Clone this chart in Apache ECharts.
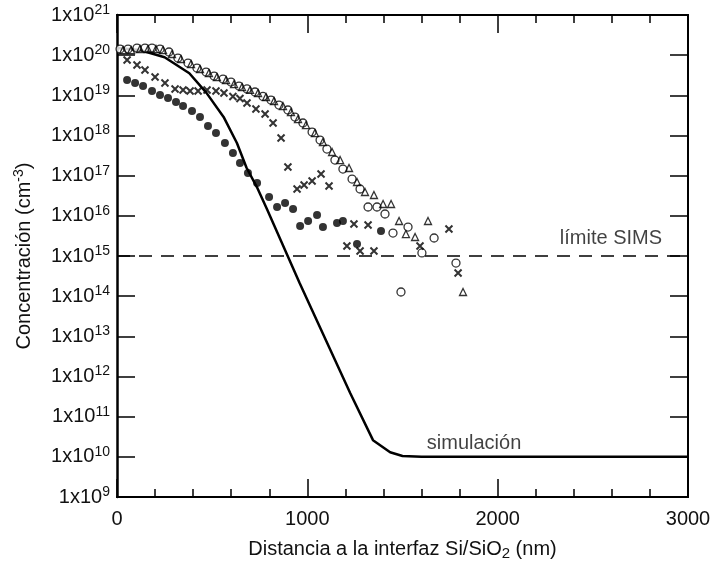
<!DOCTYPE html>
<html>
<head>
<meta charset="utf-8">
<script src="https://cdn.jsdelivr.net/npm/echarts@6/dist/echarts.min.js"></script>
<style>
  html, body { margin: 0; padding: 0; background: #fff; }
  #chart { width: 717px; height: 567px; }
</style>
</head>
<body>
<div id="chart"></div>
<script>
// Distance from the Si/SiO2 interface (nm) and concentration (cm^-3)
const openCircles = [
  [16,1.42e20],[58,1.42e20],[105,1.50e20],[147,1.50e20],[184,1.50e20],[226,1.42e20],
  [273,1.20e20],[320,8.47e19],[373,6.37e19],[420,4.78e19],[468,3.80e19],[510,3.02e19],
  [557,2.54e19],[599,2.14e19],[641,1.70e19],[683,1.44e19],[725,1.21e19],[767,9.38e18],
  [809,7.64e18],[851,5.73e18],[898,4.31e18],[935,2.88e18],[977,2.05e18],[1025,1.22e18],
  [1067,7.71e17],[1103,4.60e17],[1145,2.45e17],[1187,1.46e17],[1235,8.24e16],[1277,4.65e16],
  [1319,1.66e16],[1366,1.66e16],[1408,1.11e16],[1450,3.73e15],[1529,5.26e15],[1602,1.19e15],
  [1666,2.81e15],[1492,1.27e14],[1781,6.68e14]
];
const openTriangles = [
  [32,1.34e20],[74,1.34e20],[121,1.42e20],[163,1.42e20],[205,1.42e20],[242,1.34e20],
  [289,1.07e20],[336,8.02e19],[389,6.01e19],[436,4.52e19],[483,3.59e19],[525,2.85e19],
  [573,2.40e19],[615,1.91e19],[657,1.61e19],[699,1.36e19],[741,1.14e19],[783,9.08e18],
  [825,7.21e18],[872,5.41e18],[914,3.84e18],[951,2.57e18],[993,1.82e18],[1040,1.15e18],
  [1082,6.89e17],[1130,3.88e17],[1172,2.45e17],[1219,1.55e17],[1261,6.95e16],[1303,3.92e16],
  [1350,3.30e16],[1398,1.97e16],[1440,1.97e16],[1482,7.43e15],[1518,3.52e15],[1566,2.97e15],
  [1634,7.43e15],[1818,1.27e14]
];
const crosses = [
  [53,7.57e19],[105,5.68e19],[147,4.27e19],[200,2.86e19],[252,2.02e19],[305,1.44e19],
  [347,1.36e19],[384,1.28e19],[426,1.28e19],[473,1.36e19],[520,1.28e19],[562,1.14e19],
  [609,9.38e18],[646,8.36e18],[683,6.43e18],[730,4.56e18],[778,3.42e18],[820,2.05e18],
  [862,8.65e17],[898,1.64e17],[946,4.65e16],[983,5.85e16],[1025,7.36e16],[1072,1.10e17],
  [1114,5.52e16],[1245,6.25e15],[1319,5.90e15],[1208,1.77e15],[1277,1.33e15],[1350,1.33e15],
  [1592,1.77e15],[1744,4.70e15],[1792,3.77e14]
];
const filledCircles = [
  [53,2.40e19],[95,2.02e19],[137,1.70e19],[184,1.28e19],[226,1.02e19],[268,8.57e18],
  [310,6.81e18],[347,5.41e18],[394,4.06e18],[436,2.88e18],[478,1.72e18],[520,1.15e18],
  [567,6.50e17],[609,3.66e17],[646,2.07e17],[688,1.16e17],[736,6.56e16],[799,2.94e16],
  [841,1.66e16],[883,2.08e16],[925,1.48e16],[962,5.57e15],[1004,7.43e15],[1051,1.05e16],
  [1082,5.26e15],[1156,6.62e15],[1187,7.43e15],[1261,1.99e15],[1387,4.19e15]
];
const simulation = [
  [0,1.50e20],[120,1.35e20],[250,8.9e19],[380,3.55e19],[470,1.15e19],[560,2.9e18],
  [630,6.5e17],[680,1.6e17],[735,5.2e16],[790,1.4e16],[960,2.1e14],[1225,3.9e11],
  [1345,2.6e10],[1435,1.3e10],[1500,1.05e10],[1600,1.0e10],[3000,1.0e10]
];
const simsLimit = [[0,1e15],[3000,1e15]];
const annotations = [
  { name: 'límite SIMS', value: [2595, 2.8e15] },
  { name: 'simulación', value: [1876, 2.2e10] }
];

const FONT = '"Liberation Sans", Arial, Helvetica, sans-serif';
const chart = echarts.init(document.getElementById('chart'), null, { renderer: 'canvas' });

const supLabel = v => '{b|1x10}{s|' + Math.round(Math.log10(v)) + '}';
const richSup = {
  b: { fontSize: 20, fontFamily: FONT, color: '#111', lineHeight: 24 },
  s: { fontSize: 14, fontFamily: FONT, color: '#111', lineHeight: 10, verticalAlign: 'top' }
};

const frameLine = { show: true, onZero: false, lineStyle: { color: '#000', width: 2 } };
const tickStyle = { color: '#000', width: 1.5 };

// x axes: one pair carries the 200 nm ticks, the other the 1000 nm ticks and labels
const xFine = pos => ({
  type: 'value', position: pos, min: 0, max: 3000, interval: 200,
  axisLine: frameLine,
  axisTick: { inside: true, length: 8, lineStyle: tickStyle },
  axisLabel: { show: false }, splitLine: { show: false }
});
const xMajor = (pos, withLabels) => ({
  type: 'value', position: pos, min: 0, max: 3000, interval: 1000,
  axisLine: frameLine,
  axisTick: { inside: true, length: 18, lineStyle: tickStyle },
  axisLabel: {
    show: withLabels, fontSize: 20, fontFamily: FONT, color: '#111', margin: 12,
    formatter: v => String(v)
  },
  splitLine: { show: false }
});

const xMain = xMajor('bottom', true);
xMain.name = '{t|Distancia a la interfaz Si/SiO}{u|2}{t| (nm)}';
xMain.nameLocation = 'middle';
xMain.nameGap = 40;
xMain.nameTextStyle = {
  rich: {
    t: { fontSize: 20, fontFamily: FONT, color: '#111', lineHeight: 24 },
    u: { fontSize: 15, fontFamily: FONT, color: '#111', lineHeight: 12, verticalAlign: 'bottom' }
  }
};

const option = {
  animation: false,
  backgroundColor: '#fff',
  grid: { left: 117, right: 29, top: 15, bottom: 70 },
  xAxis: [xMain, xFine('bottom'), xMajor('top', false), xFine('top')],
  yAxis: [
    {
      type: 'log', logBase: 10, min: 1e9, max: 1e21, interval: 1,
      axisLine: { show: true, onZero: false, lineStyle: { color: '#000', width: 2.5 } },
      axisTick: { inside: true, length: 18, lineStyle: tickStyle },
      axisLabel: { formatter: supLabel, rich: richSup, margin: 7 },
      splitLine: { show: false },
      name: '{t|Concentración (cm}{s|-3}{t|)}',
      nameLocation: 'middle', nameGap: 81, nameRotate: 90,
      nameTextStyle: {
        rich: {
          t: { fontSize: 20, fontFamily: FONT, color: '#111', lineHeight: 24 },
          s: { fontSize: 14, fontFamily: FONT, color: '#111', lineHeight: 10, verticalAlign: 'top' }
        }
      }
    },
    {
      type: 'log', logBase: 10, min: 1e9, max: 1e21, interval: 1, position: 'right',
      axisLine: frameLine,
      axisTick: { inside: true, length: 18, lineStyle: tickStyle },
      axisLabel: { show: false },
      splitLine: { show: false }
    }
  ],
  series: [
    {
      name: 'simulación', type: 'line', data: simulation, showSymbol: false, symbol: 'none',
      lineStyle: { color: '#000', width: 2.5 }, z: 3
    },
    {
      name: 'límite SIMS', type: 'line', data: simsLimit, showSymbol: false, symbol: 'none',
      lineStyle: { color: '#000', width: 1.5, type: [13, 9] }, z: 2
    },
    {
      type: 'scatter', data: openCircles, symbol: 'circle', symbolSize: 8,
      itemStyle: { color: '#fff', borderColor: '#000', borderWidth: 1.3 }, z: 4
    },
    {
      type: 'scatter', data: openTriangles, symbol: 'triangle', symbolSize: 7,
      itemStyle: { color: 'rgba(255,255,255,0)', borderColor: '#000', borderWidth: 1.3 }, z: 5
    },
    {
      type: 'scatter', data: crosses, symbol: 'path://M0,0L10,10M10,0L0,10', symbolSize: 7,
      itemStyle: { color: 'none', borderColor: '#000', borderWidth: 2 }, z: 4
    },
    {
      type: 'scatter', data: filledCircles, symbol: 'circle', symbolSize: 8,
      itemStyle: { color: '#000' }, z: 4
    },
    {
      type: 'scatter', data: annotations, symbolSize: 0, silent: true,
      label: {
        show: true, position: 'inside', formatter: p => p.name,
        fontSize: 20, fontFamily: FONT, color: '#111'
      }, z: 6
    }
  ]
};
chart.setOption(option);
</script>
</body>
</html>
